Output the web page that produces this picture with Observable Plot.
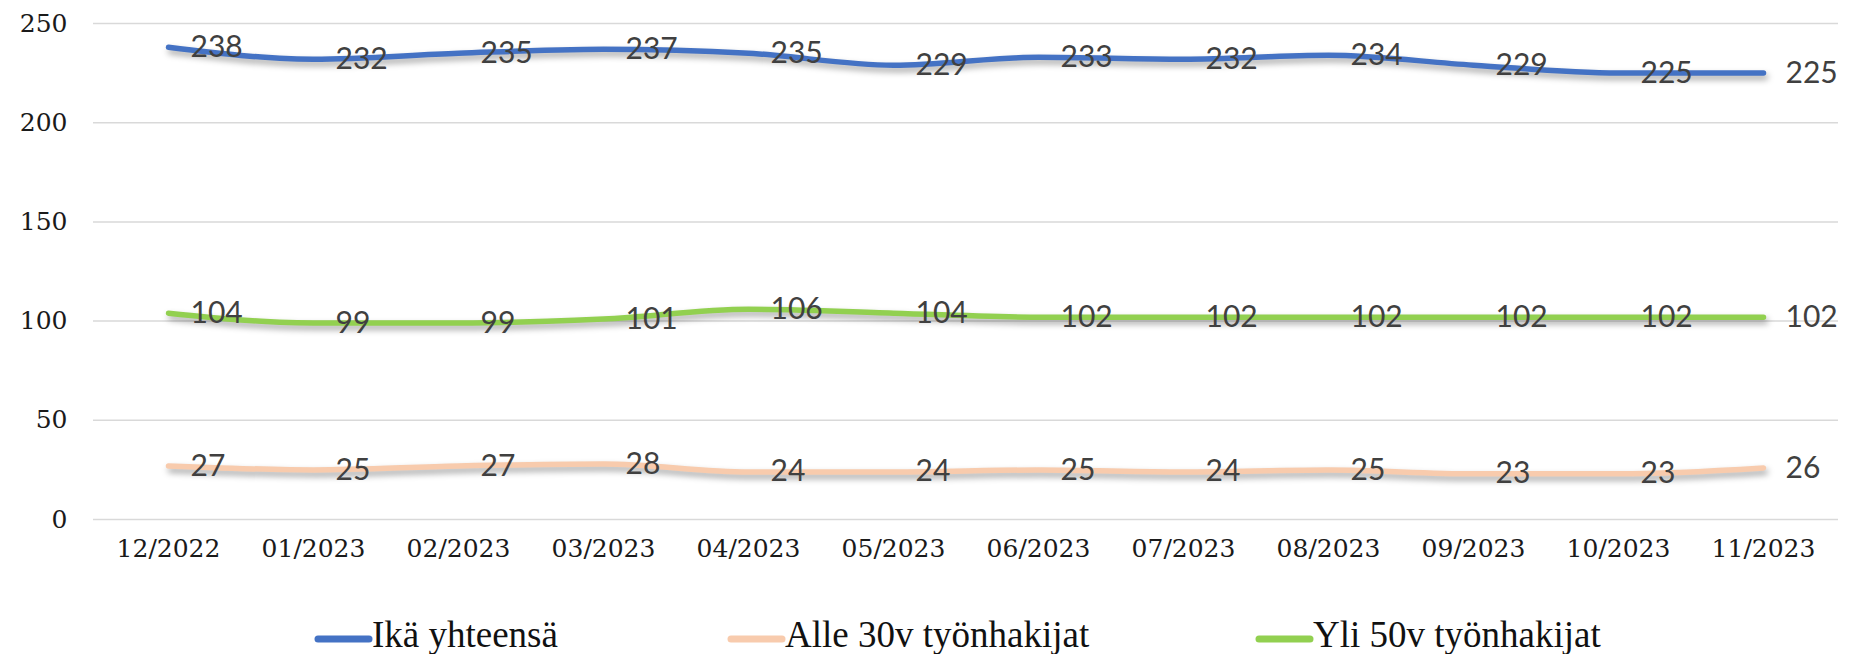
<!DOCTYPE html>
<html>
<head>
<meta charset="utf-8">
<script src="https://cdn.jsdelivr.net/npm/d3@7"></script>
<script src="https://cdn.jsdelivr.net/npm/@observablehq/plot@0.6"></script>
<style>
  html, body { margin: 0; padding: 0; background: #fff; }
  #wrap { width: 1850px; height: 654px; overflow: hidden; }
  #wrap svg { display: block; }
</style>
</head>
<body>
<div id="wrap"><div id="chart"></div><div id="legend"></div></div>
<script>
const months = ["12/2022","01/2023","02/2023","03/2023","04/2023","05/2023","06/2023","07/2023","08/2023","09/2023","10/2023","11/2023"];
const seriesNames = ["Ikä yhteensä","Alle 30v työnhakijat","Yli 50v työnhakijat"];
const seriesColors = ["#4472C4","#F8CBAD","#92D050"];
const ikaYhteensa = [238,232,235,237,235,229,233,232,234,229,225,225];
const alle30 = [27,25,27,28,24,24,25,24,25,23,23,26];
const yli50 = [104,99,99,101,106,104,102,102,102,102,102,102];
const yTicks = [0,50,100,150,200,250];

const allSeries = [ikaYhteensa, alle30, yli50];
const data = [];
allSeries.forEach((vals, si) => vals.forEach((v, i) => data.push({month: months[i], value: v, series: seriesNames[si]})));

const chart = Plot.plot({
  width: 1850,
  height: 590,
  marginLeft: 93,
  marginRight: 12,
  marginTop: 23,
  marginBottom: 71,
  style: {background: "#fff", overflow: "visible"},
  x: {type: "point", domain: months, padding: 0.5, label: null},
  y: {domain: [0, 250], label: null},
  color: {domain: seriesNames, range: seriesColors},
  marks: [
    Plot.ruleY(yTicks, {stroke: "#d9d9d9", strokeWidth: 1.5}),
    Plot.axisY(yTicks, {tickSize: 0, tickPadding: 26, fontFamily: "DejaVu Serif", fontSize: 25, fill: "#1a1a1a", label: null}),
    Plot.axisX({tickSize: 0, tickPadding: 20, fontFamily: "DejaVu Serif", fontSize: 25, fill: "#1a1a1a", label: null}),
    Plot.line(data, {x: "month", y: "value", z: "series", stroke: "series", strokeWidth: 5.5, strokeLinecap: "round", curve: "monotone-x"}),
    Plot.text(data, {x: "month", y: "value", text: d => String(d.value), dx: 22, textAnchor: "start", fontFamily: "Lato", fontSize: 30, fill: "#404040"})
  ]
});
document.getElementById("chart").appendChild(chart);
chart.querySelectorAll('g[aria-label="line"] path').forEach(p => {
  p.style.filter = "drop-shadow(2px 4px 3px rgba(0,0,0,0.35))";
});

// legend below the plot
const legendLeft = [315, 728, 1256];
const lg = d3.select("#legend").append("svg").attr("width", 1850).attr("height", 64);
seriesNames.forEach((n, i) => {
  const g = lg.append("g").attr("transform", `translate(${legendLeft[i]},0)`);
  g.append("line").attr("x1", 3).attr("x2", 54).attr("y1", 49).attr("y2", 49)
    .attr("stroke", seriesColors[i]).attr("stroke-width", 7).attr("stroke-linecap", "round");
  g.append("text").attr("x", 57).attr("y", 57).attr("font-family", "Liberation Serif")
    .attr("font-size", 37).attr("fill", "#111").text(n);
});
</script>
</body>
</html>
